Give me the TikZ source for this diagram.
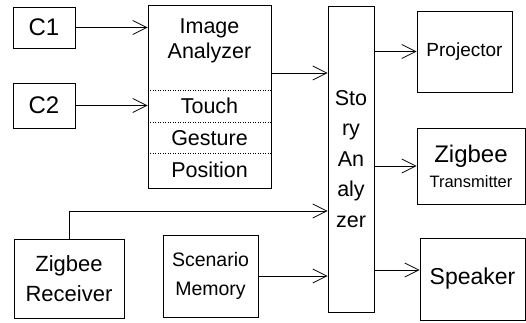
\documentclass[tikz,border=0pt]{standalone}
\usepackage{fontspec}
\setmainfont{Liberation Sans}
\usetikzlibrary{arrows.meta}

\begin{document}
\begin{tikzpicture}[x=1pt, y=-1pt, line width=0.8pt,
	box/.style={draw, inner sep=0pt, align=center, font=\fontsize{21.5}{29}\selectfont},
	arr/.style={-{Straight Barb[length=14pt,width=14pt]}}]

	\useasboundingbox (0,0) rectangle (526,323);

	% cameras
	\node[box, minimum width=62, minimum height=41, font=\fontsize{24}{29}\selectfont] (c1) at (44,27.5) {C1};
	\node[box, minimum width=62, minimum height=45, font=\fontsize{24}{29}\selectfont] (c2) at (44,105.5) {C2};

	% image analyzer with its parts
	\node[box, minimum width=123, minimum height=183] (ia) at (209.5,96.5) {};
	\node[font=\fontsize{21.5}{25}\selectfont, align=center] (iatxt) at (209.5,41) {Image\\Analyzer};
	\node[font=\fontsize{21.5}{24}\selectfont] (touch) at (209.5,106) {Touch};
	\node[font=\fontsize{21.5}{24}\selectfont] (gest) at (209.5,138) {Gesture};
	\node[font=\fontsize{21.5}{24}\selectfont] (pos) at (209.5,170) {Position};
	\draw[dotted, line width=0.5pt] (ia.west |- 0,90) -- (ia.east |- 0,90);
	\draw[dotted, line width=0.5pt] (ia.west |- 0,122) -- (ia.east |- 0,122);
	\draw[dotted, line width=0.5pt] (ia.west |- 0,153) -- (ia.east |- 0,153);

	% story analyzer
	\node[box, minimum width=46, minimum height=306, font=\fontsize{21.5}{30.5}\selectfont] (sa) at (351,159) {Sto\\ry\\An\\aly\\zer};

	% outputs
	\node[box, minimum width=95, minimum height=81, font=\fontsize{19}{26}\selectfont] (proj) at (464.5,51.5) {Projector};
	\node[box, minimum width=108, minimum height=76, font=\fontsize{24}{30}\selectfont] (zt) at (471,166) {Zigbee\\[-5pt]{\fontsize{16.5}{18}\selectfont Transmitter}};
	\node[box, minimum width=105, minimum height=82, font=\fontsize{23}{29}\selectfont] (spk) at (472.5,279) {Speaker};

	% lower inputs
	\node[box, minimum width=110, minimum height=79, font=\fontsize{22}{30}\selectfont] (zr) at (69,278.5) {Zigbee\\Receiver};
	\node[box, minimum width=95, minimum height=82, font=\fontsize{19.5}{29}\selectfont] (sm) at (210.5,276) {Scenario\\Memory};

	% connectors
	\draw[arr] (c1.east) -- (c1.east -| ia.west);
	\draw[arr] (c2.east) -- (c2.east -| ia.west);
	\draw[arr] (ia.east |- 0,73) -- (sa.west |- 0,73);
	\draw[arr] (zr.north) |- (sa.west |- 0,211);
	\draw[arr] (sm.east) -- (sm.east -| sa.west);
	\draw[arr] (proj.west -| sa.east) -- (proj.west);
	\draw[arr] (zt.west -| sa.east) -- (zt.west);
	\draw[arr] (sa.east |- 0,270) -- (spk.west |- 0,270);

\end{tikzpicture}
\end{document}
